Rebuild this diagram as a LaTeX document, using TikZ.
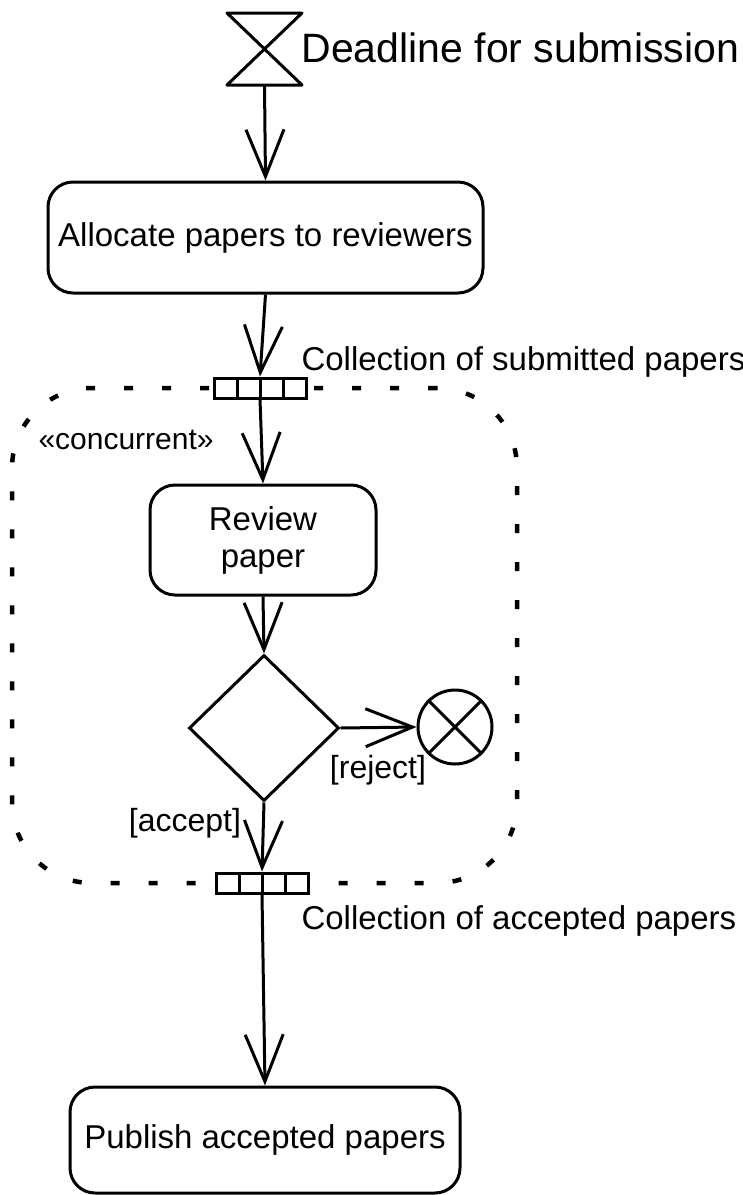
\documentclass[tikz,border=0pt]{standalone}
\usepackage{fontspec}
\setmainfont{Liberation Sans}
\usetikzlibrary{arrows.meta,shapes.geometric}
\begin{document}
\begin{tikzpicture}[x=1pt,y=-1pt,
  line width=3pt,
  act/.style={draw, rounded corners=25pt, inner sep=0pt, font=\fontsize{33}{37}\selectfont, align=center},
  pinbox/.style={draw, fill=white, minimum width=92pt, minimum height=20pt, inner sep=0pt},
  flow/.style={-{Straight Barb[length=47pt,width=38pt]}},
  lbl/.style={inner sep=0pt, font=\fontsize{33}{37}\selectfont},
  glbl/.style={inner sep=0pt, font=\fontsize{32}{36}\selectfont},
  region/.style={draw, dash pattern=on 9pt off 29pt, line width=4.5pt, rounded corners=80pt, minimum width=505pt, minimum height=495pt, inner sep=0pt}
]
\useasboundingbox (0,0) rectangle (743,1195);

% expansion region
\node[region] (reg) at (264.5,635.5) {};

% accept event (hourglass)
\draw[line join=round] (227,13) -- (302,13) -- (227,85) -- (302,85) -- cycle;
\coordinate (hg) at (264.5,85);
\node[lbl, anchor=west, font=\fontsize{41}{45}\selectfont] (dl) at (300,48) {Deadline for submission};

% actions
\node[act, minimum width=435pt, minimum height=111pt] (alloc) at (265.5,237.5) {Allocate papers to reviewers};
\node[act, minimum width=226pt, minimum height=110pt] (review) at (263,540) {Review\\paper};
\node[act, minimum width=390pt, minimum height=106pt] (pub) at (265,1140) {Publish accepted papers};

% expansion nodes
\node[pinbox] (pin1) at (260,388) {};
\foreach \dx in {-23,0,23} \draw ([xshift=\dx pt]pin1.north) -- ([xshift=\dx pt]pin1.south);
\node[pinbox] (pin2) at (262,883) {};
\foreach \dx in {-23,0,23} \draw ([xshift=\dx pt]pin2.north) -- ([xshift=\dx pt]pin2.south);

\node[lbl, anchor=west] (c1) at (300,362) {Collection of submitted papers};
\node[lbl, anchor=west] (c2) at (300,921) {Collection of accepted papers};
\node[inner sep=0pt, font=\fontsize{30}{34}\selectfont, anchor=west] (conc) at (37,440) {«concurrent»};

% decision
\node[draw, diamond, minimum width=150pt, minimum height=146pt, inner sep=0pt] (dec) at (264,728) {};
% flow final
\node[draw, circle, minimum size=74pt, inner sep=0pt] (ff) at (455,727) {};
\draw (ff.north west) -- (ff.south east);
\draw (ff.north east) -- (ff.south west);

\node[glbl] (rej) at (378,770) {[reject]};
\node[glbl] (acc) at (185,823) {[accept]};

% flows
\draw[flow] (hg) -- (alloc.north);
\draw[flow] (alloc.south) -- (pin1.north);
\draw[flow] (pin1.south) -- (review.north);
\draw[flow] (review.south) -- (dec.north);
\draw[flow] (dec.east) -- (ff.west);
\draw[flow] (dec.south) -- (pin2.north);
\draw[flow] (pin2.south) -- (pub.north);
\end{tikzpicture}
\end{document}
